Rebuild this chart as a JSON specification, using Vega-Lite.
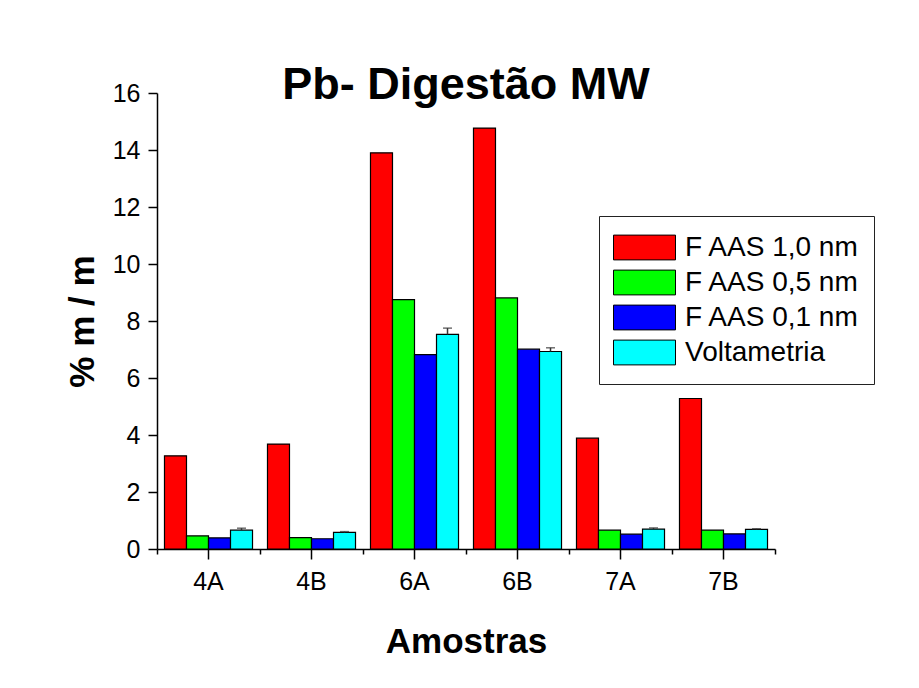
{
  "$schema": "https://vega.github.io/schema/vega-lite/v6.json",
  "width": 618,
  "height": 456,
  "autosize": {"type": "none"},
  "padding": {"left": 157, "top": 93, "right": 144, "bottom": 139},
  "background": "white",
  "title": {
    "text": "Pb- Digestão MW",
    "font": "Liberation Sans",
    "fontSize": 45,
    "fontWeight": "bold",
    "color": "black",
    "anchor": "middle",
    "baseline": "alphabetic",
    "offset": -63
  },
  "data": {
    "values": [
      {"sample": "4A", "series": "F AAS 1,0 nm", "value": 3.27},
      {"sample": "4A", "series": "F AAS 0,5 nm", "value": 0.46},
      {"sample": "4A", "series": "F AAS 0,1 nm", "value": 0.39},
      {"sample": "4A", "series": "Voltametria", "value": 0.66, "top": 0.73},
      {"sample": "4B", "series": "F AAS 1,0 nm", "value": 3.68},
      {"sample": "4B", "series": "F AAS 0,5 nm", "value": 0.40},
      {"sample": "4B", "series": "F AAS 0,1 nm", "value": 0.36},
      {"sample": "4B", "series": "Voltametria", "value": 0.58, "top": 0.61},
      {"sample": "6A", "series": "F AAS 1,0 nm", "value": 13.9},
      {"sample": "6A", "series": "F AAS 0,5 nm", "value": 8.75},
      {"sample": "6A", "series": "F AAS 0,1 nm", "value": 6.82},
      {"sample": "6A", "series": "Voltametria", "value": 7.53, "top": 7.75},
      {"sample": "6B", "series": "F AAS 1,0 nm", "value": 14.77},
      {"sample": "6B", "series": "F AAS 0,5 nm", "value": 8.81},
      {"sample": "6B", "series": "F AAS 0,1 nm", "value": 7.01},
      {"sample": "6B", "series": "Voltametria", "value": 6.93, "top": 7.06},
      {"sample": "7A", "series": "F AAS 1,0 nm", "value": 3.89},
      {"sample": "7A", "series": "F AAS 0,5 nm", "value": 0.66},
      {"sample": "7A", "series": "F AAS 0,1 nm", "value": 0.52},
      {"sample": "7A", "series": "Voltametria", "value": 0.70, "top": 0.74},
      {"sample": "7B", "series": "F AAS 1,0 nm", "value": 5.28},
      {"sample": "7B", "series": "F AAS 0,5 nm", "value": 0.66},
      {"sample": "7B", "series": "F AAS 0,1 nm", "value": 0.53},
      {"sample": "7B", "series": "Voltametria", "value": 0.69, "top": 0.71}
    ]
  },
  "layer": [
    {
      "mark": {"type": "bar", "stroke": "black", "strokeWidth": 1.2},
      "encoding": {
        "x": {
          "field": "sample",
          "type": "nominal",
          "scale": {"paddingInner": 0, "paddingOuter": 0},
          "axis": {
            "orient": "bottom",
            "title": "Amostras",
            "titleFont": "Liberation Sans",
            "titleFontSize": 35,
            "titleFontWeight": "bold",
            "titleColor": "black",
            "titlePadding": 30,
            "labelFont": "Liberation Sans",
            "labelFontSize": 25,
            "labelColor": "black",
            "labelAngle": 0,
            "labelPadding": 10,
            "tickSize": 10,
            "tickWidth": 1.5,
            "tickColor": "black",
            "domainColor": "black",
            "domainWidth": 1.5
          }
        },
        "xOffset": {
          "field": "series",
          "type": "nominal",
          "scale": {
            "domain": ["F AAS 1,0 nm", "F AAS 0,5 nm", "F AAS 0,1 nm", "Voltametria"],
            "paddingInner": 0,
            "paddingOuter": 0.34
          }
        },
        "y": {
          "field": "value",
          "type": "quantitative",
          "scale": {"domain": [0, 16], "nice": false, "zero": true},
          "axis": {
            "title": "% m / m",
            "titleFont": "Liberation Sans",
            "titleFontSize": 35,
            "titleFontWeight": "bold",
            "titleColor": "black",
            "titlePadding": 12,
            "labelFont": "Liberation Sans",
            "labelFontSize": 25,
            "labelColor": "black",
            "labelPadding": 8,
            "values": [0, 1, 2, 3, 4, 5, 6, 7, 8, 9, 10, 11, 12, 13, 14, 15, 16],
            "labelExpr": "datum.value % 2 === 0 ? datum.label : ''",
            "tickSize": {"condition": {"test": "datum.value % 2 === 1", "value": 5}, "value": 9},
            "tickWidth": 1.5,
            "tickColor": "black",
            "domainColor": "black",
            "domainWidth": 1.5,
            "grid": false
          }
        },
        "color": {
          "field": "series",
          "type": "nominal",
          "scale": {
            "domain": ["F AAS 1,0 nm", "F AAS 0,5 nm", "F AAS 0,1 nm", "Voltametria"],
            "range": ["#FF0000", "#00FF00", "#0000FF", "#00FFFF"]
          },
          "legend": {
            "title": null,
            "orient": "none",
            "legendX": 442,
            "legendY": 123,
            "padding": 14,
            "strokeColor": "#222222",
            "fillColor": "white",
            "symbolType": "M-1,-0.4L1,-0.4L1,0.4L-1,0.4Z",
            "symbolSize": 3844,
            "symbolStrokeColor": "black",
            "symbolStrokeWidth": 1,
            "symbolOpacity": 1,
            "clipHeight": 35,
            "rowPadding": 0,
            "labelFont": "Liberation Sans",
            "labelFontSize": 28,
            "labelColor": "black",
            "labelOffset": 9,
            "labelLimit": 400
          }
        }
      }
    },
    {
      "transform": [{"filter": "isValid(datum.top)"}],
      "mark": {"type": "rule", "color": "#333333", "strokeWidth": 1.5},
      "encoding": {
        "x": {
          "field": "sample",
          "type": "nominal",
          "axis": {
            "orient": "bottom",
            "labels": false,
            "title": null,
            "tickBand": "extent",
            "tickSize": 5,
            "tickWidth": 1.5,
            "tickColor": "black",
            "domain": false
          }
        },
        "xOffset": {"field": "series", "type": "nominal"},
        "y": {"field": "value", "type": "quantitative"},
        "y2": {"field": "top"}
      }
    },
    {
      "transform": [{"filter": "isValid(datum.top)"}],
      "mark": {"type": "tick", "color": "#333333", "thickness": 1.5, "size": 9},
      "encoding": {
        "x": {"field": "sample", "type": "nominal", "axis": null},
        "xOffset": {"field": "series", "type": "nominal"},
        "y": {"field": "top", "type": "quantitative"}
      }
    }
  ],
  "resolve": {"axis": {"x": "independent"}},
  "config": {
    "view": {"stroke": null},
    "font": "Liberation Sans"
  }
}
